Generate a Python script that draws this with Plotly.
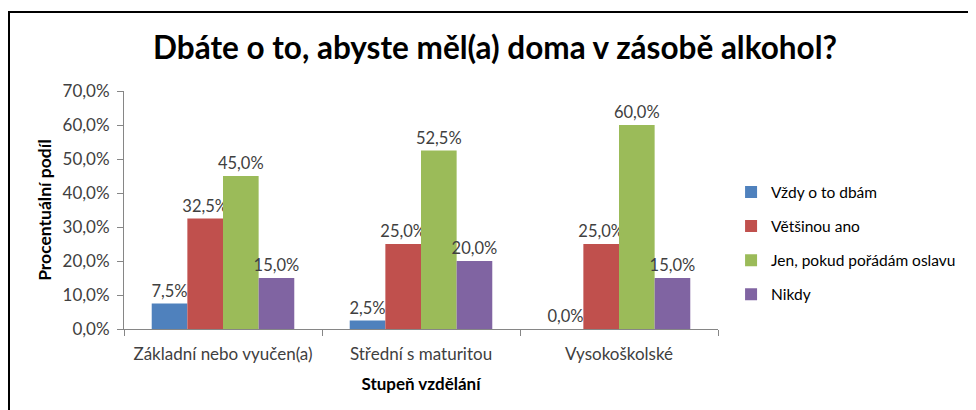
import plotly.graph_objects as go

categories = ["Základní nebo vyučen(a)", "Střední s maturitou", "Vysokoškolské"]
series_names = ["Vždy o to dbám", "Většinou ano", "Jen, pokud pořádám oslavu", "Nikdy"]
vzdy = [0.075, 0.025, 0.0]
vetsinou = [0.325, 0.25, 0.25]
jen_oslava = [0.45, 0.525, 0.60]
nikdy = [0.15, 0.20, 0.15]
y_ticks = [0, 0.1, 0.2, 0.3, 0.4, 0.5, 0.6, 0.7]
y_tick_labels = ["0,0%", "10,0%", "20,0%", "30,0%", "40,0%", "50,0%", "60,0%", "70,0%"]

colors = ["#4F81BD", "#C0504D", "#9BBB59", "#8064A2"]
FONT = "Lato"
TXT = "#404040"

L, T, PW, PH = 116, 83, 594, 238
W, H = 976, 410

fig = go.Figure()
for i, (name, vals) in enumerate(zip(series_names, [vzdy, vetsinou, jen_oslava, nikdy])):
    fig.add_trace(go.Bar(
        x=categories, y=vals, name=name,
        marker=dict(color=colors[i], line=dict(width=0)),
        text=[f"{v*100:.1f}%".replace(".", ",") for v in vals],
        textposition="outside",
        constraintext="none",
        textfont=dict(family=FONT, size=16.5, color=TXT),
        cliponaxis=False,
        legendgroup=f"g{i}",
    ))

fig.update_layout(
    width=W, height=H,
    margin=dict(l=L, r=W - L - PW, t=T, b=H - T - PH, autoexpand=False),
    paper_bgcolor="white", plot_bgcolor="white",
    barmode="group", bargap=0.28, bargroupgap=0,
    font=dict(family=FONT, size=15, color=TXT),
    title=dict(text="<b>Dbáte o to, abyste měl(a) doma v zásobě alkohol?</b>",
               x=0.499, xanchor="center", y=0.902, yanchor="middle",
               font=dict(family=FONT, size=31.5, color="black")),
    legend=dict(x=1.022, xanchor="left", y=0.36, yanchor="middle",
                font=dict(family=FONT, size=15.5, color="black"),
                tracegroupgap=11, bgcolor="rgba(0,0,0,0)"),
    xaxis=dict(showline=True, linecolor="#868686", linewidth=1,
               ticks="outside", tickson="boundaries", ticklen=6, tickcolor="#868686",
               ticklabelstandoff=10,
               showgrid=False, automargin=False,
               tickfont=dict(family=FONT, size=17, color=TXT),
               title=dict(text="<b>Stupeň vzdělání</b>", standoff=14,
                          font=dict(family=FONT, size=17, color="black"))),
    yaxis=dict(range=[0, 0.7], tickvals=y_ticks, ticktext=y_tick_labels,
               showline=True, linecolor="#868686", linewidth=1,
               ticks="outside", ticklen=6, tickcolor="#868686",
               ticklabelstandoff=4,
               showgrid=False, zeroline=False, automargin=False,
               tickfont=dict(family=FONT, size=17, color=TXT),
               title=dict(text="<b>Procentuální podíl</b>", standoff=6,
                          font=dict(family=FONT, size=17.5, color="black"))),
    shapes=[dict(type="rect", xref="paper", yref="paper",
                 x0=(1 - L) / PW, x1=(W + 20 - L) / PW,
                 y0=(T + PH - H - 20) / PH, y1=(T + PH - 4) / PH,
                 line=dict(color="black", width=2), fillcolor="rgba(0,0,0,0)",
                 layer="below")],
)

fig.write_html("out.html")
